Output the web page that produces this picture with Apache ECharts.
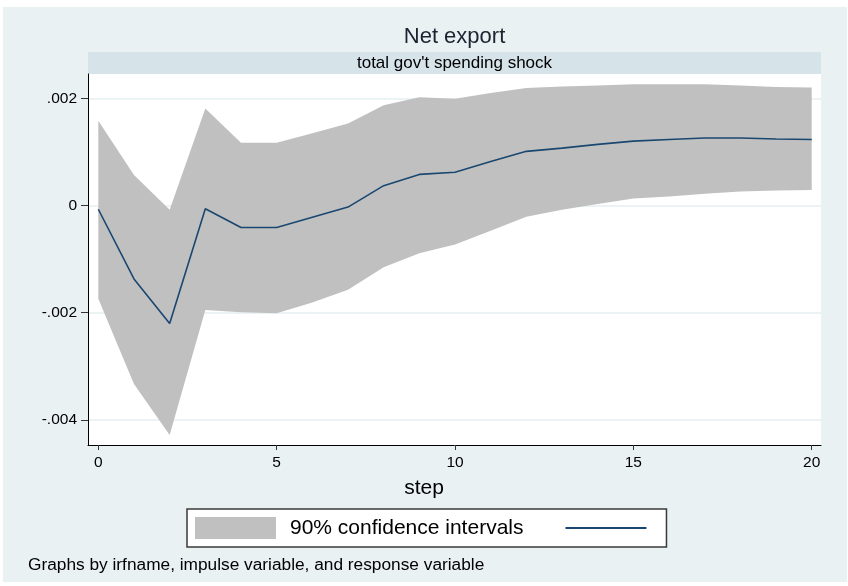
<!DOCTYPE html>
<html>
<head>
<meta charset="utf-8">
<script src="https://cdn.jsdelivr.net/npm/echarts@6/dist/echarts.min.js"></script>
<style>
  html, body { margin: 0; padding: 0; background: #ffffff; }
  #chart { width: 848px; height: 586px; }
</style>
</head>
<body>
<div id="chart"></div>
<script>
// Impulse response of net export to a total government spending shock
const steps = [0, 1, 2, 3, 4, 5, 6, 7, 8, 9, 10, 11, 12, 13, 14, 15, 16, 17, 18, 19, 20];
const irf = [-0.00007, -0.00137, -0.00220, -0.00006, -0.00041, -0.00041, -0.00022, -0.00003,
             0.00037, 0.00058, 0.00062, 0.00082, 0.00101, 0.00107, 0.00114, 0.00120,
             0.00123, 0.00126, 0.00126, 0.00124, 0.00123];
const ciUpper = [0.00158, 0.00057, -0.00008, 0.00181, 0.00117, 0.00117, 0.00135, 0.00153,
                 0.00187, 0.00202, 0.00199, 0.00210, 0.00219, 0.00222, 0.00224, 0.00226,
                 0.00226, 0.00226, 0.00224, 0.00221, 0.00220];
const ciLower = [-0.00174, -0.00333, -0.00428, -0.00195, -0.00199, -0.00201, -0.00181, -0.00157,
                 -0.00115, -0.00089, -0.00073, -0.00047, -0.00021, -0.00008, 0.00003, 0.00013,
                 0.00017, 0.00022, 0.00026, 0.00028, 0.00029];
const yTicks = [0.002, 0, -0.002, -0.004];
const yTickLabels = ['.002', '0', '-.002', '-.004'];
const xTicks = [0, 5, 10, 15, 20];

const FONT = 'Liberation Sans, Arial, sans-serif';
const BG = '#eaf1f3';
const BAND = '#d6e3e9';
const NAVY = '#1a476f';
const CI_GRAY = '#c0c0c0';

const chart = echarts.init(document.getElementById('chart'), null, { renderer: 'canvas' });

const plot = { left: 88, top: 74, right: 821, bottom: 445 };

function yLabel(v) {
  for (let i = 0; i < yTicks.length; i++) {
    if (Math.abs(v - yTicks[i]) < 1e-9) return yTickLabels[i];
  }
  return '';
}

const option = {
  backgroundColor: '#ffffff',
  animation: false,
  graphic: [
    { type: 'rect', z: -10, silent: true,
      shape: { x: 3, y: 7, width: 844, height: 575 }, style: { fill: BG } },
    { type: 'rect', z: -5, silent: true,
      shape: { x: plot.left, y: 52, width: plot.right - plot.left, height: 22 }, style: { fill: BAND } },
    { type: 'text', silent: true, x: (plot.left + plot.right) / 2, y: 37,
      style: { text: 'Net export', fontFamily: FONT, fontSize: 22, fill: '#1b2430',
               align: 'center', verticalAlign: 'middle' } },
    { type: 'text', silent: true, x: (plot.left + plot.right) / 2, y: 63,
      style: { text: "total gov't spending shock", fontFamily: FONT, fontSize: 17, fill: '#000000',
               align: 'center', verticalAlign: 'middle' } },
    { type: 'text', silent: true, x: 28, y: 565,
      style: { text: 'Graphs by irfname, impulse variable, and response variable', fontFamily: FONT,
               fontSize: 17.3, fill: '#000000', align: 'left', verticalAlign: 'middle' } }
  ],
  grid: {
    left: plot.left, top: plot.top,
    width: plot.right - plot.left, height: plot.bottom - plot.top,
    show: true, backgroundColor: '#ffffff', borderWidth: 0
  },
  legend: {
    left: 187, top: 509,
    padding: [8, 19, 8, 8],
    itemWidth: 81, itemHeight: 22, itemGap: 41,
    backgroundColor: '#ffffff', borderColor: '#3a3a3a', borderWidth: 1.5,
    selectedMode: false,
    textStyle: { fontFamily: FONT, fontSize: 21, color: '#000000', padding: [0, 0, 0, 9] },
    data: [
      { name: '90% confidence intervals', icon: 'rect' },
      { name: 'irf', itemStyle: { opacity: 0 }, lineStyle: { width: 2, color: NAVY } }
    ],
    formatter: function (name) { return name === 'irf' ? '' : name; }
  },
  xAxis: {
    type: 'value',
    min: -0.289, max: 20.26,
    name: 'step',
    nameLocation: 'middle',
    nameGap: 33,
    nameTextStyle: { fontFamily: FONT, fontSize: 21, color: '#000000', padding: [0, 61, 0, 0] },
    axisLine: { show: true, onZero: false, lineStyle: { color: '#000000', width: 1 } },
    axisTick: { show: true, length: 5, customValues: xTicks, lineStyle: { color: '#333333' } },
    axisLabel: { customValues: xTicks, margin: 10, fontFamily: FONT, fontSize: 15.5, color: '#000000' },
    splitLine: { show: false }
  },
  yAxis: {
    type: 'value',
    min: -0.004468, max: 0.002453,
    axisLine: { show: true, onZero: false, lineStyle: { color: '#000000', width: 1 } },
    axisTick: { show: true, length: 7, customValues: yTicks, lineStyle: { color: '#333333' } },
    axisLabel: { customValues: yTicks, margin: 11, fontFamily: FONT, fontSize: 15.5, color: '#000000',
                 formatter: yLabel },
    splitLine: { show: true, lineStyle: { color: '#e6eff2', width: 1.5 } }
  },
  series: [
    {
      // confidence band drawn as a polygon between the upper and lower bounds
      type: 'custom',
      name: '90% confidence intervals',
      z: 2,
      itemStyle: { color: CI_GRAY },
      encode: { x: 0, y: 1 },
      data: [[0, 0]],
      renderItem: function (params, api) {
        const pts = [];
        for (let i = 0; i < steps.length; i++) pts.push(api.coord([steps[i], ciUpper[i]]));
        for (let i = steps.length - 1; i >= 0; i--) pts.push(api.coord([steps[i], ciLower[i]]));
        return { type: 'polygon', shape: { points: pts }, style: { fill: CI_GRAY } };
      }
    },
    {
      type: 'line',
      name: 'irf',
      z: 3,
      symbol: 'none',
      lineStyle: { color: NAVY, width: 1.6 },
      itemStyle: { color: NAVY },
      data: steps.map((s, i) => [s, irf[i]])
    }
  ]
};

chart.setOption(option);
</script>
</body>
</html>
